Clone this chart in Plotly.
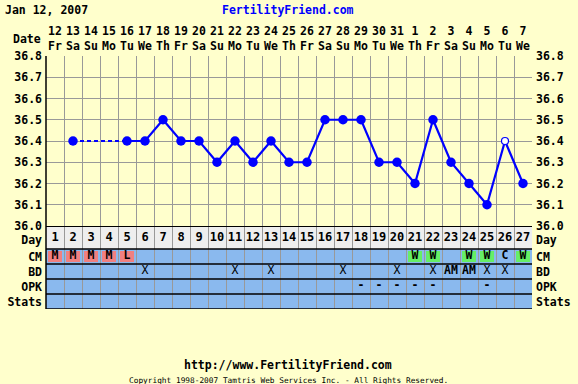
import plotly.graph_objects as go

# ---------------- data ----------------
days = list(range(1, 28))
dates = ["12", "13", "14", "15", "16", "17", "18", "19", "20", "21", "22", "23", "24", "25",
         "26", "27", "28", "29", "30", "31", "1", "2", "3", "4", "5", "6", "7"]
weekdays = ["Fr", "Sa", "Su", "Mo", "Tu", "We", "Th"] * 3 + ["Fr", "Sa", "Su", "Mo", "Tu", "We"]
temps = [None, 36.4, None, None, 36.4, 36.4, 36.5, 36.4, 36.4, 36.3, 36.4, 36.3, 36.4, 36.3,
         36.3, 36.5, 36.5, 36.5, 36.3, 36.3, 36.2, 36.5, 36.3, 36.2, 36.1, 36.4, 36.2]
open_days = [26]
cm = ["M", "M", "M", "M", "L", "", "", "", "", "", "", "", "", "", "", "", "", "", "", "",
      "W", "W", "", "W", "W", "C", "W"]
bd = ["", "", "", "", "", "X", "", "", "", "", "X", "", "X", "", "", "", "X", "", "", "X",
      "", "X", "AM", "AM", "X", "X", ""]
opk = ["", "", "", "", "", "", "", "", "", "", "", "", "", "", "", "", "", "-", "-", "-",
       "-", "-", "", "", "-", "", ""]
temp_ticks = [36.0, 36.1, 36.2, 36.3, 36.4, 36.5, 36.6, 36.7, 36.8]
row_names = ["Stats", "OPK", "BD", "CM", "Day"]
cm_colors = {"M": "#F08080", "L": "#F08080", "W": "#66EE66"}

# ---------------- geometry ----------------
W, H = 578, 384
L, R, T, B = 46, 46, 56, 75
PW, PH = W - L - R, H - T - B
row_h = [15, 15, 15, 15, 23]          # Stats, OPK, BD, CM, Day (pixel units on y2)
edges = [0]
for h in row_h:
    edges.append(edges[-1] + h)
table_h = edges[-1]
centers = [(edges[i] + edges[i + 1]) / 2 for i in range(len(row_h))]
row_c = dict(zip(row_names, centers))
label_pos = centers[:-1] + [centers[-1] - 2]   # "Day" label sits slightly low
split = table_h / PH

FONT = "DejaVu Sans Mono"
BLUE = "#0000FF"
BG = "#FFFFCC"
TBL = "#8AB9EE"
GRID = "#999999"


def px_x(px):
    return (px - L) / PW


def px_y(py):
    return 1 - (py - T) / PH


def b(s):
    if not s:
        return ""
    if s == "X":
        return s
    return "<b>" + s + "</b>"


fig = go.Figure()

# dashed connection over missing temps
valid = [(d, t) for d, t in zip(days, temps) if t is not None]
for (d0, t0), (d1, t1) in zip(valid[:-1], valid[1:]):
    if d1 - d0 > 1:
        fig.add_trace(go.Scatter(x=[d0, d1], y=[t0, t1], mode="lines",
                                 line=dict(color=BLUE, width=2.2, dash="4px,3px"),
                                 hoverinfo="skip", showlegend=False))

fig.add_trace(go.Scatter(x=days, y=temps, mode="lines", connectgaps=False,
                         line=dict(color=BLUE, width=2.2), showlegend=False))
fx = [d for d, t in zip(days, temps) if t is not None and d not in open_days]
fy = [t for d, t in zip(days, temps) if t is not None and d not in open_days]
fig.add_trace(go.Scatter(x=fx, y=fy, mode="markers",
                         marker=dict(color=BLUE, size=9.5, line=dict(width=0)), showlegend=False))
ox = [d for d in open_days]
oy = [temps[d - 1] for d in open_days]
fig.add_trace(go.Scatter(x=ox, y=oy, mode="markers",
                         marker=dict(color="white", size=7, line=dict(color=BLUE, width=1.2)),
                         showlegend=False))

# invisible traces to activate right-side axes
fig.add_trace(go.Scatter(x=[days[0]], y=[temp_ticks[0]], yaxis="y3", mode="markers",
                         marker=dict(opacity=0), hoverinfo="skip", showlegend=False))
fig.add_trace(go.Scatter(x=[days[0]], y=[0], yaxis="y4", mode="markers",
                         marker=dict(opacity=0), hoverinfo="skip", showlegend=False))

# table text
tfont = dict(family=FONT, size=11.5, color="black")
fig.add_trace(go.Scatter(x=days, y=[row_c["Day"]] * len(days), yaxis="y2", mode="text",
                         text=["<b>%d</b>" % d for d in days],
                         textfont=dict(family=FONT, size=12, color="black"),
                         hoverinfo="skip", showlegend=False))
for name, vals in (("CM", cm), ("BD", bd), ("OPK", opk)):
    fig.add_trace(go.Scatter(x=days, y=[row_c[name]] * len(days), yaxis="y2", mode="text",
                             text=[b(v) for v in vals], textfont=tfont,
                             hoverinfo="skip", showlegend=False))

shapes = []
# row backgrounds
for name, lo, hi in zip(row_names, edges[:-1], edges[1:]):
    shapes.append(dict(type="rect", xref="x domain", yref="y2", x0=0, x1=1, y0=lo, y1=hi,
                       fillcolor="#EEEEEE" if name == "Day" else TBL, line=dict(width=0),
                       layer="below"))
# CM boxes
cm_lo, cm_hi = edges[3], edges[4]
for d, v in zip(days, cm):
    if v in cm_colors:
        shapes.append(dict(type="rect", xref="x", yref="y2", x0=d - 0.39, x1=d + 0.39,
                           y0=cm_lo + 2, y1=cm_hi - 2, fillcolor=cm_colors[v],
                           line=dict(width=0), layer="below"))
# black separators
for e in edges:
    shapes.append(dict(type="line", xref="x domain", yref="y2", x0=0, x1=1, y0=e, y1=e,
                       line=dict(color="black", width=2 if e == table_h else 1.5), layer="above"))
# black left border
shapes.append(dict(type="line", xref="x domain", yref="paper", x0=0, x1=0, y0=0, y1=1,
                   line=dict(color="black", width=1.5), layer="above"))

annotations = []
hfont = dict(family=FONT, size=11.5, color="black")
for d, dt, wd in zip(days, dates, weekdays):
    annotations.append(dict(x=d, xref="x", y=px_y(39), yref="paper",
                            text="<b>%s<br>%s</b>" % (dt, wd), borderpad=0,
                            showarrow=False, font=hfont, xanchor="center", yanchor="middle"))
annotations.append(dict(x=px_x(43), xref="paper", y=px_y(39), yref="paper", text="<b>Date</b>",
                        showarrow=False, font=hfont, xanchor="right", yanchor="middle"))
annotations.append(dict(x=px_x(3), xref="paper", y=px_y(10), yref="paper", text="<b>Jan 12, 2007</b>",
                        showarrow=False, font=hfont, xanchor="left", yanchor="middle"))
annotations.append(dict(x=px_x(288), xref="paper", y=px_y(10), yref="paper",
                        text="<b>FertilityFriend.com</b>", showarrow=False,
                        font=dict(family=FONT, size=11.5, color=BLUE), xanchor="center", yanchor="middle"))
annotations.append(dict(x=px_x(288), xref="paper", y=px_y(365), yref="paper",
                        text="<b>http://www.FertilityFriend.com</b>", showarrow=False,
                        font=hfont, xanchor="center", yanchor="middle"))
annotations.append(dict(x=px_x(288.5), xref="paper", y=px_y(380), yref="paper",
                        text="Copyright 1998-2007 Tamtris Web Services Inc. - All Rights Reserved.",
                        showarrow=False, font=dict(family=FONT, size=7.8, color="black"),
                        xanchor="center", yanchor="middle"))

tickfont = dict(family=FONT, size=11.5, color="black")
temp_text = ["<b>%.1f</b>" % v for v in temp_ticks]
row_text = ["<b>%s</b>" % n for n in row_names]

common_y = dict(zeroline=False, ticks="", ticklabelstandoff=3, automargin=False,
                tickfont=tickfont, showline=False)

fig.update_layout(
    width=W, height=H,
    margin=dict(l=L, r=R, t=T, b=B, pad=0, autoexpand=False),
    paper_bgcolor=BG, plot_bgcolor=BG,
    showlegend=False,
    shapes=shapes, annotations=annotations,
    xaxis=dict(domain=[0, 1], range=[0.5, 27.5], anchor="y2", automargin=False,
               tickvals=[d - 0.5 for d in days] + [days[-1] + 0.5],
               showgrid=True, gridcolor=GRID, gridwidth=1, showticklabels=False, ticks="",
               zeroline=False, showline=False, fixedrange=True),
    yaxis=dict(domain=[split, 1], range=[temp_ticks[0], temp_ticks[-1]], anchor="x",
               tickvals=temp_ticks, ticktext=temp_text,
               showgrid=True, gridcolor=GRID, gridwidth=1, **common_y),
    yaxis3=dict(overlaying="y", side="right", anchor="x", range=[temp_ticks[0], temp_ticks[-1]],
                tickvals=temp_ticks, ticktext=temp_text, showgrid=False, **common_y),
    yaxis2=dict(domain=[0, split], range=[0, table_h], anchor="x",
                tickvals=label_pos, ticktext=row_text, showgrid=False, **common_y),
    yaxis4=dict(overlaying="y2", side="right", anchor="x", range=[0, table_h],
                tickvals=label_pos, ticktext=row_text, showgrid=False, **common_y),
)

fig.write_html("out.html", config={"displayModeBar": False},
               post_script="document.body.style.margin='0';")
